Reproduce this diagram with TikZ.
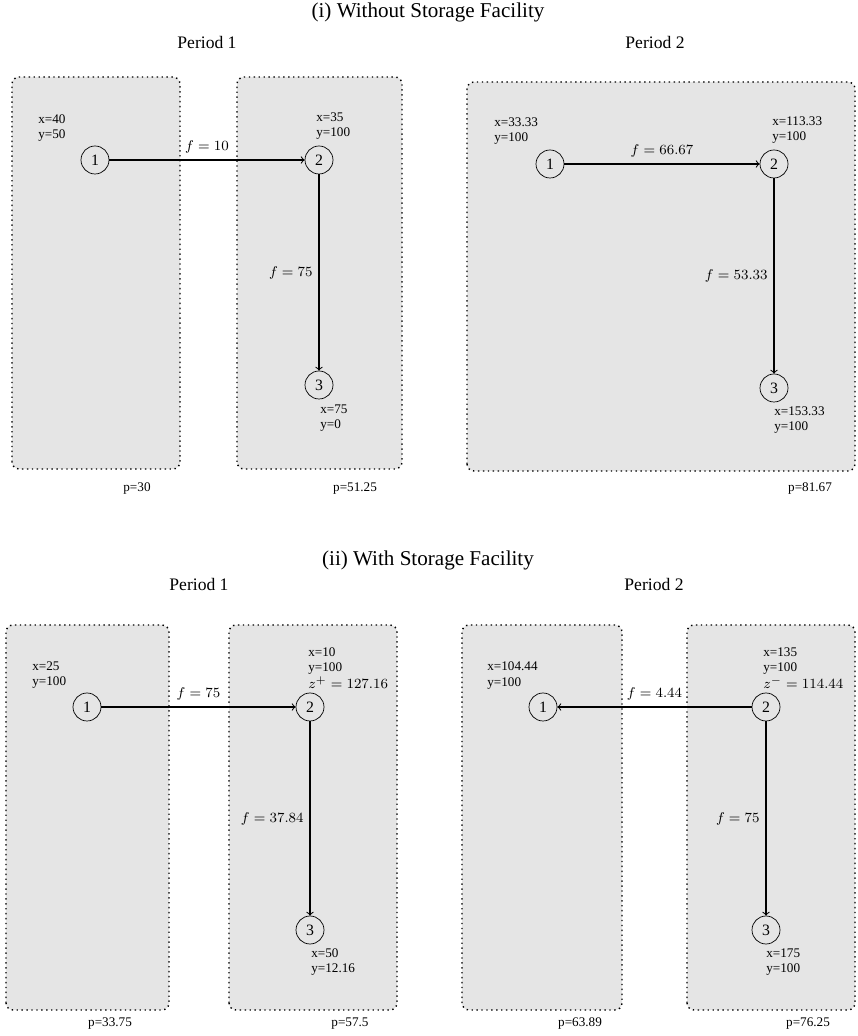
\documentclass[tikz,border=0pt]{standalone}
\usepackage{amsmath}
\usepackage{xcolor}
\usepackage{fontspec}
\setmainfont{Liberation Serif}
\usepackage{tikz}
\usetikzlibrary{shapes,arrows,calc,positioning}

\begin{document}
\begin{tikzpicture}[
    bus/.style={draw, circle, minimum size=0.56cm, inner sep=0pt, font=\small},
    zone/.style={draw, dotted, thick, fill=gray!20, rounded corners=4pt},
    info/.style={font=\fontsize{7.5}{8.6}\selectfont, align=left, anchor=west, inner sep=0pt},
    price/.style={font=\fontsize{7.5}{8.6}\selectfont, inner sep=0pt},
    flow/.style={->, semithick},
    flowlabel/.style={font=\fontsize{8.5}{10}\selectfont}
]

        \useasboundingbox (0,0) rectangle (17.14,20.72);

        % (i) without storage
        \node (titleA) at (8.56,20.48) {\large (i) Without Storage Facility};
        \node (perA1) at (4.14,19.88) {Period 1};
        \node (perA2) at (13.10,19.88) {Period 2};

        \draw[zone] (0.24,11.34) rectangle (3.60,19.18);
        \draw[zone] (4.74,11.34) rectangle (8.04,19.18);
        \draw[zone] (9.34,11.30) rectangle (17.10,19.08);

        \node[bus] (a1) at (1.90,17.52) {1};
        \node[bus] (a2) at (6.38,17.52) {2};
        \node[bus] (a3) at (6.38,13.02) {3};
        \node[bus] (b1) at (11.00,17.44) {1};
        \node[bus] (b2) at (15.48,17.44) {2};
        \node[bus] (b3) at (15.48,12.96) {3};

        \node[info] (ia1) at (0.76,18.16) {x=40\\y=50};
        \node[info] (ia2) at (6.32,18.20) {x=35\\y=100};
        \node[info] (ia3) at (6.40,12.36) {x=75\\y=0};
        \node[info] (ib1) at (9.88,18.09) {x=33.33\\y=100};
        \node[info] (ib2) at (15.44,18.12) {x=113.33\\y=100};
        \node[info] (ib3) at (15.48,12.32) {x=153.33\\y=100};

        \draw[flow] (a1) -- node[above, flowlabel] {$f = 10$} (a2);
        \draw[flow] (a2) -- node[left, flowlabel] {$f = 75$} (a3);
        \draw[flow] (b1) -- node[above, flowlabel] {$f = 66.67$} (b2);
        \draw[flow] (b2) -- node[left, flowlabel] {$f = 53.33$} (b3);

        \node[price] (pa1) at (2.74,10.94) {p=30};
        \node[price] (pa2) at (7.10,10.94) {p=51.25};
        \node[price] (pb) at (16.20,10.94) {p=81.67};

        % (ii) with storage
        \node (titleB) at (8.56,9.52) {\large (ii) With Storage Facility};
        \node (perB1) at (3.98,9.04) {Period 1};
        \node (perB2) at (13.08,9.04) {Period 2};

        \draw[zone] (0.12,0.52) rectangle (3.38,8.22);
        \draw[zone] (4.58,0.52) rectangle (7.94,8.22);
        \draw[zone] (9.24,0.52) rectangle (12.44,8.22);
        \draw[zone] (13.74,0.52) rectangle (17.10,8.22);

        \node[bus] (c1) at (1.74,6.58) {1};
        \node[bus] (c2) at (6.20,6.58) {2};
        \node[bus] (c3) at (6.20,2.12) {3};
        \node[bus] (d1) at (10.86,6.58) {1};
        \node[bus] (d2) at (15.32,6.58) {2};
        \node[bus] (d3) at (15.32,2.12) {3};

        \node[info] (ic1) at (0.64,7.21) {x=25\\y=100};
        \node[info] (ic2) at (6.16,7.36) {x=10\\y=100\\[1.2pt]{\fontsize{8.5}{8.6}\selectfont $z^{+} = 127.16$}};
        \node[info] (ic3) at (6.22,1.48) {x=50\\y=12.16};
        \node[info] (id1) at (9.74,7.21) {x=104.44\\y=100};
        \node[info] (id2) at (15.26,7.36) {x=135\\y=100\\[1.2pt]{\fontsize{8.5}{8.6}\selectfont $z^{-} = 114.44$}};
        \node[info] (id3) at (15.32,1.48) {x=175\\y=100};

        \draw[flow] (c1) -- node[above, flowlabel] {$f = 75$} (c2);
        \draw[flow] (c2) -- node[left, flowlabel] {$f = 37.84$} (c3);
        \draw[flow] (d2) -- node[above, flowlabel] {$f = 4.44$} (d1);
        \draw[flow] (d2) -- node[left, flowlabel] {$f = 75$} (d3);

        \node[price] (pc1) at (2.20,0.24) {p=33.75};
        \node[price] (pc2) at (7.00,0.24) {p=57.5};
        \node[price] (pd1) at (11.60,0.24) {p=63.89};
        \node[price] (pd2) at (16.16,0.24) {p=76.25};

\end{tikzpicture}
\end{document}
